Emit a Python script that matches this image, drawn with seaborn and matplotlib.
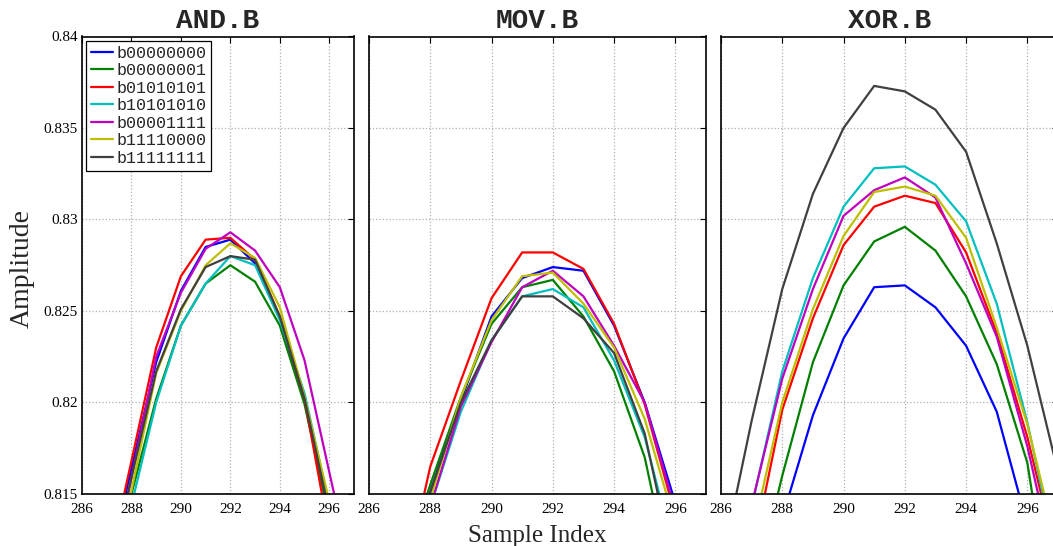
"""Amplitude around the leakage peak for three instructions, one line per operand value."""
import matplotlib.pyplot as plt
import seaborn as sns
import pandas as pd
import numpy as np

# %%
samples = list(range(286, 298))
patterns = ['b00000000', 'b00000001', 'b01010101', 'b10101010',
            'b00001111', 'b11110000', 'b11111111']
colors = ['#0000ff', '#008000', '#ff0000', '#00bfbf',
          '#bf00bf', '#bfbf00', '#404040']
titles = ['AND.B', 'MOV.B', 'XOR.B']
xticks = [286, 288, 290, 292, 294, 296]
yticks = [0.815, 0.82, 0.825, 0.83, 0.835, 0.84]
ytick_labels = ['0.815', '0.82', '0.825', '0.83', '0.835', '0.84']

# one row per operand pattern, same order as `patterns`
and_b = [
    [.8050, .8106, .8164, .8222, .8261, .8285, .8289, .8276, .8246, .8201, .8137, .8074],
    [.8040, .8099, .8150, .8202, .8242, .8265, .8275, .8266, .8242, .8199, .8138, .8077],
    [.8046, .8107, .8168, .8230, .8269, .8289, .8290, .8278, .8247, .8202, .8128, .8054],
    [.8034, .8089, .8144, .8200, .8242, .8265, .8280, .8275, .8245, .8205, .8144, .8083],
    [.8026, .8092, .8159, .8225, .8260, .8284, .8293, .8283, .8263, .8223, .8162, .8101],
    [.8024, .8088, .8152, .8216, .8250, .8275, .8287, .8279, .8252, .8203, .8146, .8089],
    [.8042, .8100, .8159, .8217, .8251, .8274, .8280, .8278, .8247, .8202, .8140, .8078],
]
mov_b = [
    [.8041, .8101, .8151, .8201, .8247, .8268, .8274, .8272, .8242, .8200, .8145, .8080],
    [.8057, .8106, .8155, .8203, .8243, .8263, .8267, .8247, .8217, .8170, .8092, .8030],
    [.8020, .8090, .8165, .8212, .8257, .8282, .8282, .8273, .8243, .8199, .8138, .8070],
    [.8039, .8091, .8143, .8195, .8234, .8258, .8262, .8252, .8223, .8181, .8116, .8050],
    [.8033, .8088, .8143, .8198, .8233, .8263, .8272, .8258, .8231, .8200, .8141, .8080],
    [.8035, .8091, .8147, .8203, .8245, .8269, .8271, .8254, .8230, .8191, .8133, .8070],
    [.8055, .8103, .8151, .8200, .8234, .8258, .8258, .8246, .8227, .8183, .8106, .8030],
]
xor_b = [
    [.8020, .8080, .8137, .8193, .8235, .8263, .8264, .8252, .8231, .8195, .8133, .8070],
    [.8020, .8091, .8160, .8222, .8264, .8288, .8296, .8283, .8258, .8221, .8167, .8060],
    [.8030, .8115, .8196, .8246, .8286, .8307, .8313, .8309, .8282, .8238, .8181, .8112],
    [.8070, .8143, .8217, .8268, .8307, .8328, .8329, .8319, .8299, .8254, .8189, .8112],
    [.8070, .8144, .8213, .8262, .8302, .8316, .8323, .8312, .8276, .8236, .8176, .8102],
    [.8050, .8126, .8200, .8251, .8291, .8315, .8318, .8313, .8290, .8241, .8188, .8119],
    [.8110, .8190, .8262, .8314, .8350, .8373, .8370, .8360, .8337, .8287, .8231, .8162],
]

# %%
sns.set_style('white')
plt.rcParams['font.family'] = ['Liberation Serif', 'DejaVu Serif']

fig = plt.figure(figsize=(10.53, 5.46), dpi=100)
positions = [
    [82 / 1053, 52 / 546, 272 / 1053, 457.5 / 546],
    [369 / 1053, 52 / 546, 337 / 1053, 457.5 / 546],
    [721 / 1053, 52 / 546, 337 / 1053, 457.5 / 546],
]

for i, values in enumerate([and_b, mov_b, xor_b]):
    ax = fig.add_axes(positions[i])
    df = pd.DataFrame({
        'sample': np.tile(samples, len(patterns)),
        'amplitude': np.concatenate(values),
        'pattern': np.repeat(patterns, len(samples)),
    })
    sns.lineplot(data=df, x='sample', y='amplitude', hue='pattern',
                 hue_order=patterns, palette=colors, linewidth=1.6,
                 legend=False, ax=ax)

    ax.set_xlim(286, 297)
    ax.set_ylim(0.815, 0.84)
    ax.set_xticks(xticks)
    ax.set_xticklabels([str(t) for t in xticks], fontsize=11)
    ax.set_yticks(yticks)
    if i == 0:
        ax.set_yticklabels(ytick_labels, fontsize=11)
    else:
        ax.set_yticklabels([])
    ax.set_xlabel('')
    ax.set_ylabel('')
    ax.tick_params(direction='in', length=4, width=0.8, top=True, right=True,
                   colors='black')
    ax.tick_params(axis='x', pad=6.3)
    ax.tick_params(axis='y', pad=3)
    ax.grid(True, linestyle=':', color='#b0b0b0', linewidth=0.9)
    for spine in ax.spines.values():
        spine.set_color('black')
        spine.set_linewidth(1.2)
    ax.set_title(titles[i], family='Liberation Mono', fontweight='bold',
                 fontsize=20, pad=6)

    if i == 0:
        leg = ax.legend(ax.get_lines()[:len(patterns)], patterns, loc='upper left',
                        bbox_to_anchor=(0.0, 1.0), borderaxespad=0.25,
                        prop={'family': 'Liberation Mono', 'size': 12},
                        handlelength=1.3, handletextpad=0.2, labelspacing=0.15,
                        borderpad=0.3, fancybox=False, framealpha=1)
        leg.get_frame().set_edgecolor('black')
        leg.get_frame().set_linewidth(0.9)

fig.text(22 / 1053, 1 - 268 / 546, 'Amplitude', rotation=90, fontsize=20,
         ha='center', va='center')
fig.text(537 / 1053, 1 - 542 / 546, 'Sample Index', fontsize=18,
         ha='center', va='baseline')

plt.savefig('out.png', dpi=100)
